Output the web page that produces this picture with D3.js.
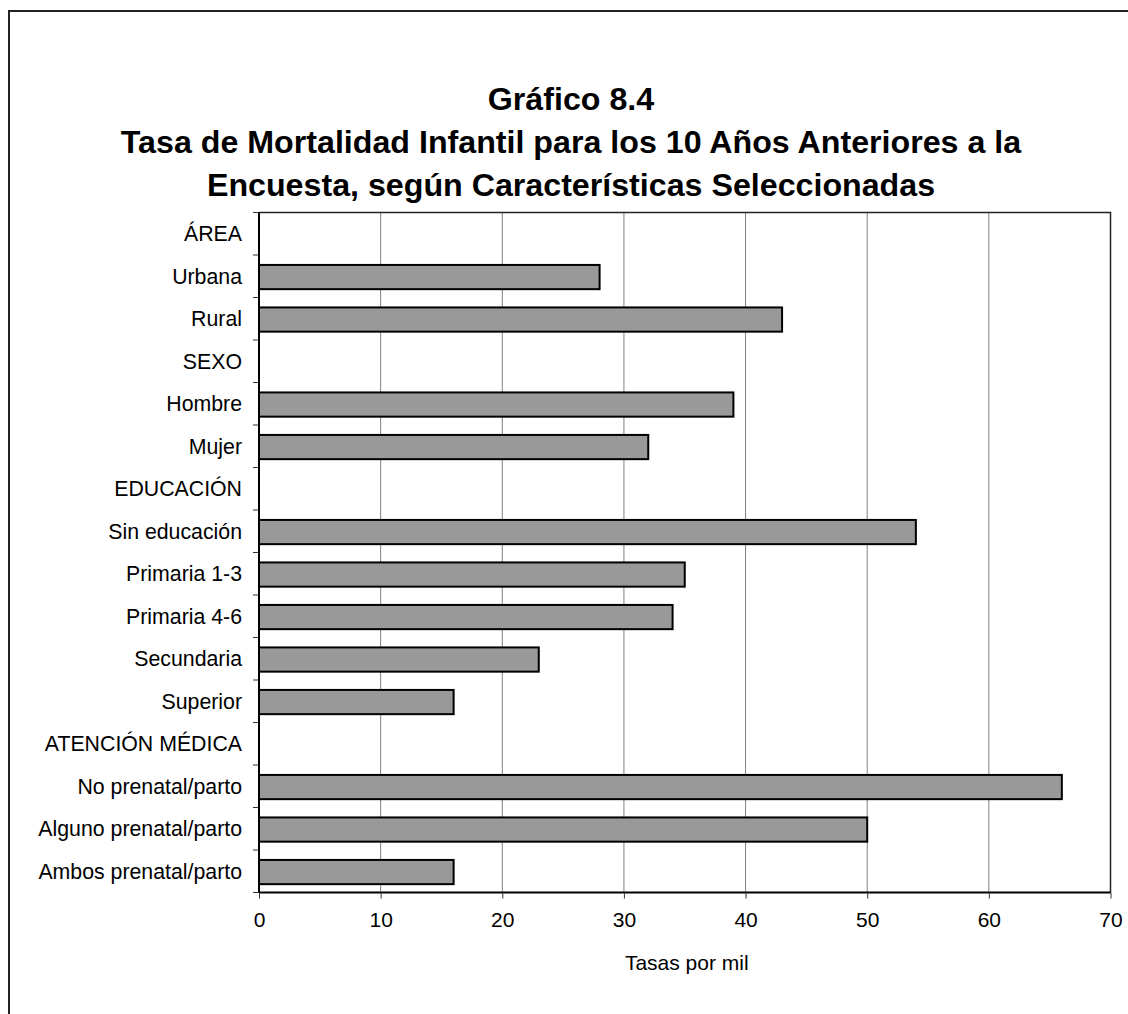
<!DOCTYPE html>
<html>
<head>
<meta charset="utf-8">
<script src="https://cdn.jsdelivr.net/npm/d3@7"></script>
<style>
  html, body { margin: 0; padding: 0; background: #fff; }
  svg { display: block; font-family: Arial, "Liberation Sans", sans-serif; }
</style>
</head>
<body>
<svg id="chart" width="1128" height="1014"></svg>
<script>
// Infant mortality rate (per thousand), 10 years before the survey
const categories = [
  "ÁREA", "Urbana", "Rural",
  "SEXO", "Hombre", "Mujer",
  "EDUCACIÓN", "Sin educación", "Primaria 1-3", "Primaria 4-6", "Secundaria", "Superior",
  "ATENCIÓN MÉDICA", "No prenatal/parto", "Alguno prenatal/parto", "Ambos prenatal/parto"
];
// null marks a group heading row (no bar)
const rates = [
  null, 28, 43,
  null, 39, 32,
  null, 54, 35, 34, 23, 16,
  null, 66, 50, 16
];
const xTicks = [0, 10, 20, 30, 40, 50, 60, 70];
const titleLines = [
  "Gráfico 8.4",
  "Tasa de Mortalidad Infantil para los 10 Años Anteriores a la",
  "Encuesta, según Características Seleccionadas"
];
const xAxisTitle = "Tasas por mil";

const svg = d3.select("#chart");
const W = 1128, H = 1014;
const plot = { left: 259, right: 1110.5, top: 212.5, bottom: 892.5 };

// outer frame (continues past the right and bottom edges)
svg.append("path")
  .attr("d", `M9,${H + 5} V11 H${W + 5}`)
  .attr("fill", "none").attr("stroke", "#222").attr("stroke-width", 2);

// title
const title = svg.append("g").attr("font-weight", "bold").attr("font-size", 32.2)
  .attr("text-anchor", "middle").attr("fill", "#000");
titleLines.forEach((t, i) => {
  title.append("text").attr("x", 571).attr("y", 110 + i * 43).text(t);
});

const x = d3.scaleLinear().domain([0, 70]).range([plot.left, plot.right]);
const y = d3.scaleBand().domain(categories).range([plot.top, plot.bottom])
  .paddingInner(0.43).paddingOuter(0.215);

// vertical gridlines
svg.append("g").selectAll("line")
  .data(xTicks.filter(v => v > 0 && v < 70))
  .join("line")
  .attr("x1", d => x(d)).attr("x2", d => x(d))
  .attr("y1", plot.top).attr("y2", plot.bottom)
  .attr("stroke", "#808080").attr("stroke-width", 1);

// plot area top and right borders
svg.append("path")
  .attr("d", `M${plot.left},${plot.top} H${plot.right} V${plot.bottom}`)
  .attr("fill", "none").attr("stroke", "#222").attr("stroke-width", 1.5);

// bars
svg.append("g").selectAll("rect")
  .data(categories.map((c, i) => ({ c, v: rates[i] })).filter(d => d.v !== null))
  .join("rect")
  .attr("x", x(0))
  .attr("y", d => y(d.c) + 0.8)
  .attr("width", d => x(d.v) - x(0))
  .attr("height", y.bandwidth())
  .attr("fill", "#999999")
  .attr("stroke", "#000").attr("stroke-width", 2);

// x axis
const xAxis = svg.append("g")
  .attr("transform", `translate(0,${plot.bottom})`)
  .call(d3.axisBottom(x).tickValues(xTicks).tickSize(6).tickPadding(14).tickFormat(d3.format("d")));
xAxis.select(".domain").attr("stroke", "#000").attr("stroke-width", 2)
  .attr("d", `M${plot.left},0H${plot.right}`);
xAxis.selectAll(".tick line").attr("stroke", "#333").attr("stroke-width", 1);
xAxis.selectAll(".tick text").attr("font-size", 21)
  .attr("font-family", "Arial, 'Liberation Sans', sans-serif").attr("fill", "#000");

// y axis line with ticks on the row boundaries
const boundaries = d3.range(categories.length + 1)
  .map(i => plot.top + i * (plot.bottom - plot.top) / categories.length);
svg.append("g").selectAll("line").data(boundaries).join("line")
  .attr("x1", plot.left - 6).attr("x2", plot.left)
  .attr("y1", d => d).attr("y2", d => d)
  .attr("stroke", "#333").attr("stroke-width", 1);
svg.append("line")
  .attr("x1", plot.left).attr("x2", plot.left)
  .attr("y1", plot.top).attr("y2", plot.bottom)
  .attr("stroke", "#000").attr("stroke-width", 2);

// category labels
svg.append("g").selectAll("text").data(categories).join("text")
  .attr("x", 242)
  .attr("y", d => y(d) + y.bandwidth() / 2 + 7.5)
  .attr("text-anchor", "end").attr("font-size", 21.3).attr("fill", "#000")
  .text(d => d);

// x axis title
svg.append("text")
  .attr("x", (plot.left + plot.right) / 2 + 2).attr("y", 970)
  .attr("text-anchor", "middle").attr("font-size", 21).attr("fill", "#000")
  .text(xAxisTitle);
</script>
</body>
</html>
